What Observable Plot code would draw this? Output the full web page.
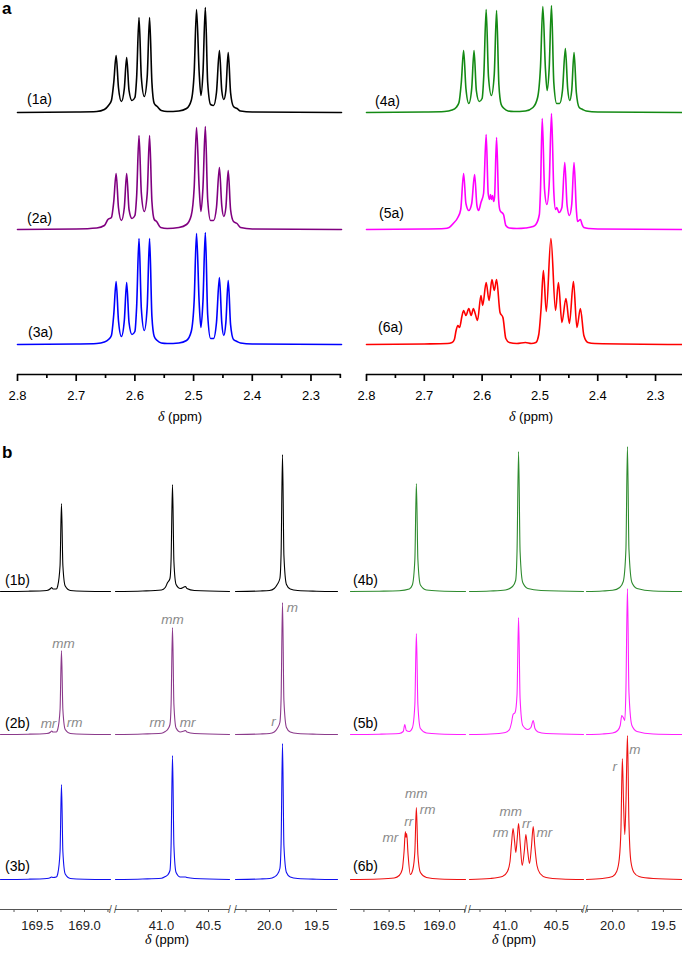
<!DOCTYPE html>
<html><head><meta charset="utf-8">
<script src="https://cdn.jsdelivr.net/npm/d3@7"></script>
<script src="https://cdn.jsdelivr.net/npm/@observablehq/plot@0.6"></script>
<style>
body{margin:0;background:#fff;}
#fig{position:relative;width:682px;height:954px;overflow:hidden;background:#fff;font-family:"Liberation Sans",Arial,Helvetica,sans-serif;color:#000;}
#fig svg{position:absolute;overflow:visible;background:transparent;}
.lbl{position:absolute;font-size:14px;line-height:1;transform:translateY(-50%);white-space:nowrap;}
.ax{position:absolute;font-size:13px;line-height:1;transform:translate(-50%,-50%);white-space:nowrap;}
.ax i{font-family:"Liberation Serif","DejaVu Serif",serif;font-size:14px;}
.pl{position:absolute;font-size:17px;font-weight:bold;line-height:1;}
</style></head><body><div id="fig"></div><script>
// ---------------- DATA (ppm, intensity in px above each baseline) ----------------
const namesA = ["(1a)", "(2a)", "(3a)", "(4a)", "(5a)", "(6a)"];
const namesB = ["(1b)", "(2b)", "(3b)", "(4b)", "(5b)", "(6b)"];
const colorsA = ["#000000", "#800080", "#0000ff", "#148a14", "#ff00ff", "#ff0000"];
const colorsB = ["#000000", "#8b3a8b", "#1010f0", "#2e8b2e", "#ff20ff", "#ee1111"];

const ticksA = [2.8, 2.7, 2.6, 2.5, 2.4, 2.3];
const minorA = [2.75, 2.65, 2.55, 2.45, 2.35, 2.25];
const ticksB_co = [169.5, 169.0];
const ticksB_ch = [41.0, 40.5];
const ticksB_me = [20.0, 19.5];
const minorB_co = [169.75, 169.5, 169.25, 169.0, 168.75];
const minorB_ch = [41.25, 41.0, 40.75, 40.5, 40.25];
const minorB_me = [20.25, 20.0, 19.75, 19.5, 19.25];

const s1a = [[2.800,0],[2.700,0.5],[2.665,1],[2.652,3],[2.645,7],[2.640,12],[2.636,30],[2.632,57],[2.628,25],[2.623,11],[2.618,24],[2.614,55],[2.610,22],[2.605,12],[2.600,15],[2.597,35],[2.593,95],[2.589,35],[2.584,16],[2.579,36],[2.575,95],[2.571,30],[2.567,9],[2.562,6],[2.555,2],[2.545,1],[2.525,1.5],[2.512,4],[2.504,12],[2.499,40],[2.495,103],[2.4905,40],[2.4875,17],[2.484,40],[2.480,105],[2.476,30],[2.471,8],[2.466,7],[2.461,20],[2.456,62],[2.452,22],[2.4485,13],[2.445,22],[2.441,60],[2.437,20],[2.432,6],[2.426,4],[2.420,1.5],[2.400,0.5],[2.248,0]];
const s2a = [[2.800,0],[2.700,0.5],[2.665,1.5],[2.652,4],[2.646,10],[2.640,12],[2.636,28],[2.632,56],[2.628,22],[2.623,9],[2.618,22],[2.614,56],[2.610,20],[2.605,11],[2.600,14],[2.597,34],[2.593,94],[2.589,36],[2.584,18],[2.579,36],[2.575,94],[2.571,28],[2.567,10],[2.563,8],[2.556,2],[2.545,1],[2.525,2],[2.512,5],[2.504,14],[2.499,42],[2.495,102],[2.4905,42],[2.4875,18],[2.484,42],[2.480,103],[2.476,30],[2.471,9],[2.466,9],[2.461,22],[2.456,62],[2.452,24],[2.4485,13],[2.445,22],[2.441,59],[2.437,20],[2.432,8],[2.426,6],[2.420,2],[2.400,0.5],[2.248,0]];
const s3a = [[2.800,0],[2.700,0.5],[2.665,1],[2.652,2.5],[2.645,5],[2.640,9],[2.636,30],[2.632,63],[2.628,24],[2.623,8],[2.618,24],[2.614,62],[2.610,22],[2.605,10],[2.600,13],[2.597,38],[2.593,106],[2.589,36],[2.584,14],[2.579,38],[2.575,106],[2.571,28],[2.567,8],[2.562,4],[2.555,1.5],[2.545,1],[2.525,1.5],[2.512,4],[2.504,13],[2.499,44],[2.495,111],[2.4905,42],[2.4875,17],[2.484,44],[2.480,112],[2.476,30],[2.471,6],[2.466,6],[2.461,22],[2.456,67],[2.452,22],[2.4485,9],[2.445,22],[2.441,64],[2.437,20],[2.432,5],[2.426,3],[2.420,1.5],[2.400,0.5],[2.248,0]];
const s4a = [[2.800,0],[2.700,0.5],[2.665,1],[2.652,2.5],[2.645,5],[2.640,10],[2.636,30],[2.632,62],[2.628,24],[2.623,9],[2.618,24],[2.614,62],[2.610,22],[2.605,11],[2.600,14],[2.597,38],[2.593,103],[2.589,36],[2.584,17],[2.579,38],[2.575,102],[2.571,28],[2.567,8],[2.562,4],[2.555,1.5],[2.545,1],[2.525,1.5],[2.512,5],[2.504,15],[2.499,46],[2.495,106],[2.4905,44],[2.4875,22],[2.484,44],[2.480,107],[2.476,30],[2.471,9],[2.466,9],[2.461,22],[2.456,64],[2.452,24],[2.4485,12],[2.445,22],[2.441,60],[2.437,20],[2.432,5],[2.426,3],[2.420,1.5],[2.400,0.5],[2.2525,0]];
const s5a = [[2.800,0],[2.700,0.5],[2.665,1],[2.657,2],[2.650,6],[2.642,12],[2.637,20],[2.632,56],[2.628,26],[2.623,19],[2.618,26],[2.613,55],[2.609,24],[2.606,19],[2.602,27],[2.5975,36],[2.593,95],[2.5895,36],[2.587,30],[2.5855,35],[2.584,30],[2.582,34],[2.580,28],[2.5785,32],[2.575,92],[2.5715,30],[2.569,19],[2.563,15],[2.559,4],[2.553,1.5],[2.540,1],[2.525,1.5],[2.512,3],[2.507,5],[2.501,15],[2.499,40],[2.496,111],[2.492,40],[2.488,25],[2.484,45],[2.480,116],[2.476,38],[2.473,20],[2.471,22],[2.467,17],[2.462,22],[2.457,67],[2.453,24],[2.449,14],[2.445,25],[2.441,67],[2.437,20],[2.435,8],[2.430,10],[2.427,5],[2.424,2],[2.415,1],[2.400,0.5],[2.2525,0]];
const s6a = [[2.800,0],[2.700,0.5],[2.660,1],[2.652,2],[2.648,5],[2.645,14],[2.642,19],[2.639,17],[2.635,28],[2.632,34],[2.628,29],[2.623,36],[2.619,29],[2.615,36],[2.612,31],[2.608,24],[2.602,49],[2.599,39],[2.593,62],[2.588,44],[2.583,65],[2.579,54],[2.575,65],[2.569,32],[2.564,27],[2.559,6],[2.553,2],[2.540,1],[2.525,2],[2.515,1],[2.507,2],[2.502,10],[2.498,36],[2.494,74],[2.489,33],[2.481,106],[2.473,34],[2.468,62],[2.462,22],[2.455,46],[2.449,21],[2.442,63],[2.436,17],[2.430,36],[2.424,9],[2.417,2],[2.405,1],[2.2525,0]];

// 13C spectra: carbonyl (co), methine (ch), methyl (me) regions
const s1b_co = [[169.894,0],[169.6,0.3],[169.40,1],[169.36,3],[169.35,4],[169.335,2.5],[169.30,2.5],[169.285,5.5],[169.26,26],[169.245,88],[169.23,26],[169.205,5.5],[169.15,1],[169.0,0.3],[168.723,0]];
const s2b_co = [[169.894,0],[169.6,0.3],[169.40,1],[169.36,2.5],[169.35,3.5],[169.335,2.5],[169.30,2.5],[169.285,5],[169.26,25],[169.245,84],[169.23,25],[169.205,5],[169.15,1],[169.0,0.3],[168.723,0]];
const s3b_co = [[169.894,0],[169.6,0.3],[169.40,1],[169.36,2],[169.35,2.5],[169.335,2],[169.30,2.5],[169.285,5.5],[169.26,28],[169.245,95],[169.23,28],[169.205,5.5],[169.15,1],[169.0,0.3],[168.723,0]];
const s1b_ch = [[41.489,0],[41.2,0.5],[41.0,1.5],[40.96,4],[40.935,9],[40.91,13],[40.898,32],[40.883,107],[40.868,30],[40.845,7],[40.80,3],[40.76,4.5],[40.745,5],[40.73,3],[40.65,1],[40.277,0]];
const s2b_ch = [[41.489,0],[41.2,0.5],[41.0,1.2],[40.96,3],[40.935,5],[40.91,10],[40.898,30],[40.883,107],[40.868,30],[40.845,6.5],[40.80,2.5],[40.76,3.5],[40.745,4],[40.73,2.5],[40.65,1],[40.277,0]];
const s3b_ch = [[41.489,0],[41.2,0.5],[41.0,1.2],[40.96,3],[40.935,4.5],[40.91,9],[40.898,34],[40.883,124],[40.868,34],[40.845,7],[40.80,2.5],[40.76,2.5],[40.745,2.5],[40.73,2],[40.65,1],[40.277,0]];
const s1b_me = [[20.362,0],[20.1,0.5],[20.0,1],[19.95,3],[19.918,7],[19.89,13],[19.877,38],[19.862,137],[19.847,36],[19.82,7],[19.78,2.5],[19.7,1],[19.5,0.3],[19.277,0]];
const s2b_me = [[20.362,0],[20.1,0.5],[20.0,1],[19.95,2.5],[19.918,6],[19.89,12],[19.877,36],[19.862,132],[19.847,34],[19.82,7],[19.78,2.5],[19.7,1],[19.5,0.3],[19.277,0]];
const s3b_me = [[20.362,0],[20.1,0.5],[20.0,1],[19.95,2.5],[19.918,5],[19.89,11],[19.877,36],[19.862,136],[19.847,34],[19.82,7],[19.78,2.5],[19.7,1],[19.5,0.3],[19.277,0]];
const s4b_co = [[169.883,0],[169.6,0.3],[169.4,0.8],[169.30,2.5],[169.27,6.5],[169.245,32],[169.23,108],[169.215,32],[169.19,6.5],[169.13,1.5],[169.0,0.5],[168.743,0]];
const s5b_co = [[169.883,0],[169.6,0.3],[169.4,1],[169.36,3],[169.345,10],[169.33,4],[169.30,3],[169.27,6.5],[169.245,30],[169.23,101],[169.215,30],[169.19,6],[169.13,1.5],[169.0,0.5],[168.743,0]];
const s6b_co = [[169.883,0],[169.6,0.5],[169.45,1.5],[169.40,4],[169.37,10],[169.352,28],[169.339,48],[169.333,42],[169.326,46],[169.313,26],[169.29,5],[169.265,10],[169.245,28],[169.23,72],[169.215,25],[169.19,7],[169.13,2],[169.0,0.5],[168.743,0]];
const s4b_ch = [[41.353,0],[41.15,0.5],[41.0,1.5],[40.93,5],[40.90,11],[40.886,40],[40.871,140],[40.856,40],[40.83,9],[40.78,3],[40.65,1],[40.233,0]];
const s5b_ch = [[41.353,0],[41.15,0.5],[41.0,2],[40.96,5],[40.94,12],[40.925,20],[40.905,22],[40.886,40],[40.871,117],[40.856,36],[40.83,9],[40.78,5],[40.75,7],[40.727,14],[40.71,6],[40.68,2.5],[40.6,1],[40.233,0]];
const s6b_ch = [[41.353,0],[41.15,1],[41.03,3],[40.98,8],[40.955,18],[40.94,36],[40.925,51],[40.91,38],[40.898,27],[40.885,40],[40.871,56],[40.855,36],[40.835,14],[40.815,28],[40.799,45],[40.783,30],[40.763,16],[40.745,32],[40.727,53],[40.712,34],[40.69,14],[40.66,6],[40.6,2],[40.45,0.5],[40.233,0]];
const s4b_me = [[20.257,0],[20.1,0.5],[20.0,1.2],[19.93,4],[19.895,10],[19.869,42],[19.854,145],[19.839,42],[19.81,9],[19.76,3],[19.6,0.5],[19.312,0]];
const s5b_me = [[20.257,0],[20.1,0.5],[20.0,1.5],[19.95,4],[19.925,9],[19.91,19],[19.895,17],[19.88,14],[19.869,44],[19.854,146],[19.839,42],[19.81,9],[19.76,3],[19.6,0.5],[19.312,0]];
const s6b_me = [[20.257,0],[20.1,1],[20.0,3],[19.96,8],[19.935,20],[19.918,50],[19.904,121],[19.892,75],[19.88,45],[19.868,80],[19.854,144],[19.84,60],[19.82,18],[19.79,7],[19.74,3],[19.6,1],[19.312,0]];

// tacticity annotations: text, region, ppm, height above the spectrum baseline
const labels2b = [
  {t:"mm", r:"co", ppm:169.223, h:91}, {t:"mr", r:"co", ppm:169.383, h:11}, {t:"rm", r:"co", ppm:169.106, h:12},
  {t:"mm", r:"ch", ppm:40.883, h:115}, {t:"rm", r:"ch", ppm:41.043, h:12}, {t:"mr", r:"ch", ppm:40.723, h:12},
  {t:"m", r:"me", ppm:19.758, h:127}, {t:"r", r:"me", ppm:19.957, h:13}
];
const labels6b = [
  {t:"mr", r:"co", ppm:169.487, h:42}, {t:"rr", r:"co", ppm:169.306, h:58}, {t:"mm", r:"co", ppm:169.230, h:86}, {t:"rm", r:"co", ppm:169.118, h:70},
  {t:"mm", r:"ch", ppm:40.948, h:68}, {t:"rm", r:"ch", ppm:41.047, h:47}, {t:"rr", r:"ch", ppm:40.792, h:56}, {t:"mr", r:"ch", ppm:40.618, h:47},
  {t:"r", r:"me", ppm:19.980, h:113}, {t:"m", r:"me", ppm:19.782, h:130}
];

// ---------------- DRAWING ----------------
const fig = document.getElementById("fig");
const FONT = '"Liberation Sans", Arial, Helvetica, sans-serif';
const within = (arr, dom) => arr.filter(t => t <= Math.max(...dom) + 1e-9 && t >= Math.min(...dom) - 1e-9);

function put(svg, left, top) {
  svg.style.left = left + "px"; svg.style.top = top + "px";
  fig.appendChild(svg);
}
function html(cls, text, left, top) {
  const d = document.createElement("div");
  d.className = cls; d.innerHTML = text;
  d.style.left = left + "px"; d.style.top = top + "px";
  fig.appendChild(d);
}

// Panel a (1H)
const baseA = [262, 145, 30];
function panelA(specs, cols, domain, x0, x1) {
  const M = 20;
  const svg = Plot.plot({
    width: x1 - x0 + 2 * M, height: 440,
    marginLeft: M, marginRight: M, marginTop: 0, marginBottom: 66,
    x: {domain, label: null},
    y: {domain: [0, 374], axis: null},
    style: {fontFamily: FONT, fontSize: "13px", background: "transparent", overflow: "visible", color: "#000"},
    marks: [
      ...specs.map((s, i) => Plot.line(s, {x: d => d[0], y: d => d[1] + baseA[i], stroke: cols[i], strokeWidth: 1.6, curve: "monotone-x"})),
      Plot.ruleY([0], {stroke: "#000", strokeWidth: 1.7}),
      Plot.axisX({ticks: within(ticksA, domain), tickSize: 7, tickPadding: 9, tickFormat: d3.format(".1f"), fontSize: 13, stroke: "#000", strokeWidth: 1.7, label: null}),
      Plot.axisX({ticks: within(minorA, domain), tickSize: 4, tickFormat: () => "", stroke: "#000", strokeWidth: 1.7, label: null})
    ]
  });
  put(svg, x0 - M, 0);
}
panelA([s1a, s2a, s3a], colorsA.slice(0, 3), [2.8, 2.248], 17, 341);
panelA([s4a, s5a, s6a], colorsA.slice(3), [2.8, 2.2525], 365.5, 682);

// Panel b (13C), three broken-axis regions per side
const baseB = [318, 175, 30];
function segB(specs, cols, domain, x0, x1, major, minor, breaks, labels) {
  const M = 20;
  const marks = [
    ...specs.map((s, i) => Plot.line(s, {x: d => d[0], y: d => d[1] + baseB[i], stroke: cols[i], strokeWidth: 1.1, curve: "monotone-x"})),
    Plot.ruleY([0], {stroke: "#555", strokeWidth: 1}),
    Plot.axisX({ticks: within(major, domain), tickSize: 0, tickPadding: 11, tickFormat: d3.format(".1f"), fontSize: 13, fill: "#222", label: null}),
    Plot.axisX({ticks: within(minor, domain), tickSize: 3, tickFormat: () => "", stroke: "#555", strokeWidth: 1, label: null}),
    Plot.text(breaks, {x: d => d, y: 0, text: () => "/", fontSize: 10, fill: "#444"})
  ];
  if (labels) marks.push(Plot.text(labels.data, {x: "ppm", y: d => d.h + labels.base, text: "t", fontStyle: "italic", fill: "#8a8a8a", fontSize: 13.5}));
  const svg = Plot.plot({
    width: x1 - x0 + 2 * M, height: 514,
    marginLeft: M, marginRight: M, marginTop: 0, marginBottom: 45,
    x: {domain, label: null},
    y: {domain: [0, 469], axis: null},
    style: {fontFamily: FONT, fontSize: "13px", background: "transparent", overflow: "visible", color: "#000"},
    marks
  });
  put(svg, x0 - M, 440);
}
const L = colorsB.slice(0, 3), R = colorsB.slice(3);
const dCoL = [169.894, 168.723], dChL = [41.489, 40.277], dMeL = [20.362, 19.277];
const dCoR = [169.883, 168.743], dChR = [41.353, 40.233], dMeR = [20.257, 19.312];
segB([s1b_co, s2b_co, s3b_co], L, dCoL, 0, 110, ticksB_co, minorB_co, [dCoL[1]], {data: labels2b.filter(d => d.r === "co"), base: baseB[1]});
segB([s1b_ch, s2b_ch, s3b_ch], L, dChL, 115, 229, ticksB_ch, minorB_ch, dChL, {data: labels2b.filter(d => d.r === "ch"), base: baseB[1]});
segB([s1b_me, s2b_me, s3b_me], L, dMeL, 235, 337, ticksB_me, minorB_me, [dMeL[0]], {data: labels2b.filter(d => d.r === "me"), base: baseB[1]});
segB([s4b_co, s5b_co, s6b_co], R, dCoR, 350, 465, ticksB_co, minorB_co, [dCoR[1]], {data: labels6b.filter(d => d.r === "co"), base: baseB[2]});
segB([s4b_ch, s5b_ch, s6b_ch], R, dChR, 469, 583, ticksB_ch, minorB_ch, dChR, {data: labels6b.filter(d => d.r === "ch"), base: baseB[2]});
segB([s4b_me, s5b_me, s6b_me], R, dMeR, 586, 682, ticksB_me, minorB_me, [dMeR[0]], {data: labels6b.filter(d => d.r === "me"), base: baseB[2]});

// Text: panel letters, spectrum names, axis titles
html("pl", "a", 2, 0);
html("pl", "b", 2, 443.6);
const posA = [[27, 99], [27, 218], [28, 332], [375, 101], [379, 213], [378, 327]];
namesA.forEach((n, i) => html("lbl", n, posA[i][0], posA[i][1]));
const posB = [[5, 580], [5, 723], [5, 866], [353, 580], [353, 723], [353, 866]];
namesB.forEach((n, i) => html("lbl", n, posB[i][0], posB[i][1]));
const dlab = "<i>δ</i> (ppm)";
html("ax", dlab, 180, 417); html("ax", dlab, 531, 417);
html("ax", dlab, 167, 940); html("ax", dlab, 514, 940);
</script></body></html>
